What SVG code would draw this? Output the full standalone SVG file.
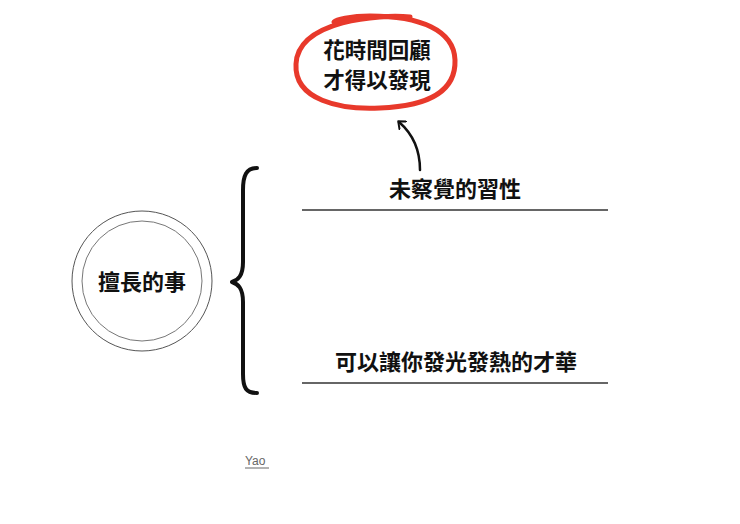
<svg xmlns="http://www.w3.org/2000/svg" width="740" height="524" viewBox="0 0 740 524">
<style>
.t{font-family:"Noto Sans CJK TC","Noto Sans CJK SC",sans-serif;font-weight:700;fill:#111;text-anchor:middle}
.ul{stroke:#333;stroke-width:1.5}
</style>
<defs>
<marker id="ah" viewBox="0 0 12 12" refX="6" refY="6" markerWidth="12" markerHeight="12" orient="auto" markerUnits="userSpaceOnUse">
<path d="M1 1 L7 6 L1 11" fill="none" stroke="#111" stroke-width="2" stroke-linecap="round" stroke-linejoin="round"/>
</marker>
</defs>
<rect width="740" height="524" fill="#fff"/>
<g id="goal">
<path d="M410 17 C380 14 298 20 296 64 C294 100 340 110 380 108 C430 106 456 90 455 60 C454 30 420 16 370 16 C350 16 336 20 334 22" fill="none" stroke="#e8392b" stroke-width="5" stroke-linecap="round"/>
<text class="t" x="377" y="58" font-size="21.5">花時間回顧</text>
<text class="t" x="377" y="88" font-size="21.5">才得以發現</text>
</g>
<g id="core">
<circle cx="142" cy="281" r="70" fill="none" stroke="#555" stroke-width="1"/>
<circle cx="142" cy="281" r="60" fill="none" stroke="#777" stroke-width="1"/>
<text class="t" x="142" y="290" font-size="22">擅長的事</text>
</g>
<g id="brace">
<path d="M257 168 C246 168 243 176 243 190 L243 262 C243 276 238 280 232 282 C238 284 243 288 243 302 L243 374 C243 388 246 393 257 393" fill="none" stroke="#111" stroke-width="4" stroke-linecap="round" stroke-linejoin="round"/>
</g>
<g id="habit">
<text class="t" x="455" y="197" font-size="22">未察覺的習性</text>
<line class="ul" x1="302" y1="210" x2="608" y2="210"/>
</g>
<g id="talent">
<text class="t" x="456" y="370" font-size="22">可以讓你發光發熱的才華</text>
<line class="ul" x1="302" y1="383" x2="608" y2="383"/>
</g>
<g id="connectors">
<path d="M420 170 C420 150 414 135 399 122" fill="none" stroke="#111" stroke-width="2.5" stroke-linecap="round" marker-end="url(#ah)"/>
</g>
<g id="credit">
<text x="245" y="465" font-family="'Liberation Sans',sans-serif" font-size="12" fill="#666">Yao</text>
<line x1="245" y1="468" x2="269" y2="468" stroke="#666" stroke-width="1"/>
</g>
</svg>
